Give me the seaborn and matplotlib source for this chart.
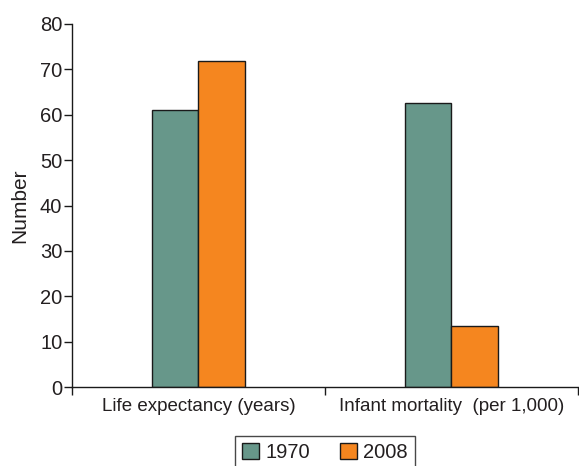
import pandas as pd
import matplotlib.pyplot as plt
import seaborn as sns
from matplotlib.ticker import FixedLocator

# data
categories = ["Life expectancy (years)", "Infant mortality  (per 1,000)"]
years = ["1970", "2008"]
values_1970 = [61.0, 62.6]
values_2008 = [71.8, 13.4]

df = pd.DataFrame({
    "Category": categories * 2,
    "Year": [years[0]] * 2 + [years[1]] * 2,
    "Number": values_1970 + values_2008,
})

sns.set_style("ticks")
plt.rcParams["font.family"] = ["Liberation Sans", "DejaVu Sans"]
text_col = "#231F20"

fig = plt.figure(figsize=(5.79, 4.66), dpi=100)
ax = fig.add_axes([0.1244, 0.1695, 0.8736, 0.779])

palette = {"1970": "#67978A", "2008": "#F5861F"}
sns.barplot(data=df, x="Category", y="Number", hue="Year", order=categories,
            hue_order=years, palette=palette, width=0.37, saturation=1,
            edgecolor="#1a1a1a", linewidth=1.0, ax=ax, legend=True)

ax.set_xlim(-0.5, 1.5)
ax.set_ylim(0, 80)
ax.set_yticks(range(0, 81, 10))
ax.tick_params(axis="y", length=6, width=1, colors="#1a1a1a",
               labelcolor=text_col, labelsize=14.5, pad=1)
ax.tick_params(axis="x", which="major", length=0, labelcolor=text_col,
               labelsize=13.5, pad=8)
ax.xaxis.set_minor_locator(FixedLocator([-0.5, 0.5, 1.5]))
ax.tick_params(axis="x", which="minor", length=6, width=1, colors="#1a1a1a")
ax.set_xlabel("")
ax.set_ylabel("Number", fontsize=15, color=text_col, labelpad=8)

sns.despine(ax=ax)
for s in ["left", "bottom"]:
    ax.spines[s].set_color("#1a1a1a")
    ax.spines[s].set_linewidth(1)

leg = ax.legend(loc="upper center", bbox_to_anchor=(0.5, -0.135), ncol=2,
                frameon=True, fancybox=False, fontsize=14.5, handlelength=0.85,
                handleheight=0.85, handletextpad=0.3, columnspacing=1.5,
                borderpad=0.35, borderaxespad=0)
leg.get_frame().set_edgecolor("#1a1a1a")
leg.get_frame().set_linewidth(1)
for t in leg.get_texts():
    t.set_color(text_col)

fig.savefig("out.png", dpi=100)
